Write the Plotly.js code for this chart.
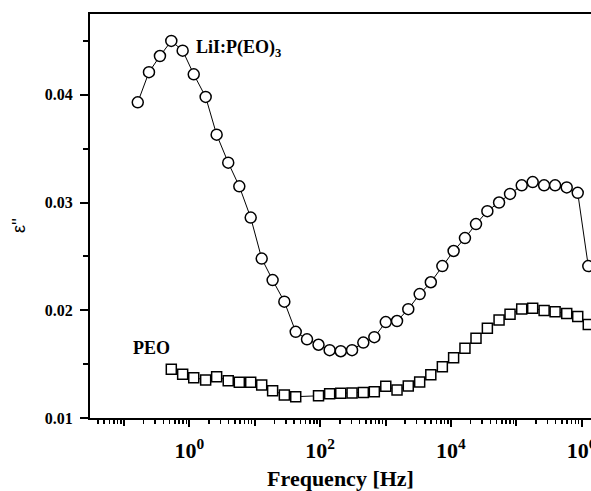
<!DOCTYPE html>
<html>
<head>
<meta charset="utf-8">
<script src="https://cdn.plot.ly/plotly-3.0.1.min.js"></script>
<style>html,body{margin:0;padding:0;background:#fff;}#chart{width:591px;height:491px;}</style>
</head>
<body>
<div id="chart"></div>
<script>
// Frequency (Hz)
const freq = [0.163,0.242,0.356,0.531,0.792,1.17,1.78,2.62,3.94,5.82,8.69,12.8,18.8,28.4,42.4,63.1,94.6,140,207,308,458,675,1010,1500,2230,3330,4930,7400,11000,16400,24200,36100,54500,80200,121000,178000,266000,392000,590000,869000,1260000];
// epsilon'' for LiI:P(EO)3
const lii = [0.0393,0.0421,0.0436,0.0450,0.0441,0.0419,0.0398,0.0363,0.0337,0.0315,0.0286,0.0248,0.0228,0.0208,0.0180,0.0173,0.0168,0.0163,0.0162,0.0163,0.0170,0.0175,0.0189,0.0190,0.0201,0.0215,0.0226,0.0241,0.0255,0.0267,0.0280,0.0292,0.0300,0.0308,0.0316,0.0319,0.0316,0.0316,0.0314,0.0309,0.0241];
// epsilon'' for PEO
const peo = [null,null,null,0.01452,0.01406,0.01374,0.01353,0.01384,0.01346,0.01332,0.01332,0.01306,0.01254,0.01214,0.01198,null,0.01206,0.01226,0.01229,0.01232,0.01237,0.01243,0.01294,0.01260,0.01297,0.01334,0.01402,0.01476,0.01560,0.01647,0.01740,0.01833,0.01910,0.01964,0.02011,0.02019,0.01997,0.01987,0.01969,0.01941,0.01868];

// labelled decades and unlabelled decades
const xTickVals = [1,100,10000,1000000];
const xTickText = ['<b>10<sup>0</sup></b>', '<b>10<sup>2</sup></b>', '<b>10<sup>4</sup></b>', '<b>10<sup>6</sup></b>'];
const xOddDecades = [0.1,10,1000,100000];
const yTickVals = [0.01,0.02,0.03,0.04];
const yTickText = ['0.01','0.02','0.03','0.04'];
const yMinorVals = [0.015,0.025,0.035,0.045];

const xMinorVals = [];
for (let d = -2; d <= 6; d++) {
  for (let m = 2; m <= 9; m++) xMinorVals.push(m * Math.pow(10, d));
}

const serif = 'Liberation Serif, Times New Roman, serif';
const xRange = [-1.518, 6.142];

const traces = [
  {
    x: freq, y: lii, type: 'scatter', mode: 'lines+markers',
    line: {color: '#000', width: 1},
    marker: {symbol: 'circle', size: 11, color: '#fff', line: {color: '#000', width: 1.5}},
    showlegend: false
  },
  {
    x: freq, y: peo, type: 'scatter', mode: 'lines+markers', connectgaps: true,
    line: {color: '#000', width: 1},
    marker: {symbol: 'square', size: 10, color: '#fff', line: {color: '#000', width: 1.5}},
    showlegend: false
  },
  {
    // carrier for the overlay axis that draws the unlabelled decade ticks
    x: [freq[0]], y: [null], xaxis: 'x2', type: 'scatter', mode: 'markers',
    hoverinfo: 'skip', showlegend: false
  }
];

const layout = {
  width: 591, height: 491,
  margin: {l: 90, r: 0, t: 14, b: 73, pad: 0},
  paper_bgcolor: '#fff', plot_bgcolor: '#fff',
  font: {family: serif, color: '#000'},
  xaxis: {
    type: 'log', range: xRange,
    showgrid: false, zeroline: false,
    showline: true, linecolor: '#000', linewidth: 2, mirror: true,
    ticks: 'outside', ticklen: 7, tickwidth: 2, tickcolor: '#000',
    tickmode: 'array', tickvals: xTickVals, ticktext: xTickText,
    ticklabelstandoff: 5, ticklabeloverflow: 'allow',
    tickfont: {family: serif, size: 22, color: '#000'},
    minor: {tickmode: 'array', tickvals: xMinorVals, ticks: 'outside', ticklen: 4, tickwidth: 1.5, tickcolor: '#000', showgrid: false},
    title: {text: '<b>Frequency [Hz]</b>', font: {family: serif, size: 22, color: '#000'}, standoff: 13}
  },
  xaxis2: {
    type: 'log', range: xRange, overlaying: 'x', side: 'bottom', anchor: 'y',
    showgrid: false, zeroline: false, showline: false, showticklabels: false,
    ticks: 'outside', ticklen: 7, tickwidth: 2, tickcolor: '#000',
    tickmode: 'array', tickvals: xOddDecades
  },
  yaxis: {
    range: [0.01, 0.0475],
    showgrid: false, zeroline: false,
    showline: true, linecolor: '#000', linewidth: 2, mirror: false,
    ticks: 'outside', ticklen: 8, tickwidth: 2, tickcolor: '#000',
    tickmode: 'array', tickvals: yTickVals, ticktext: yTickText,
    ticklabelstandoff: 4,
    tickfont: {family: serif, size: 16, color: '#000', weight: 'bold'},
    minor: {tickmode: 'array', tickvals: yMinorVals, ticks: 'outside', ticklen: 5, tickwidth: 2, tickcolor: '#000', showgrid: false}
  },
  annotations: [
    {xref: 'paper', yref: 'paper', x: (19 - 90) / 501, y: (418 - 226) / 404,
     text: "ε''", textangle: -90, showarrow: false,
     font: {family: 'Liberation Sans, Arial, sans-serif', size: 18, color: '#000'},
     xanchor: 'center', yanchor: 'middle'},
    {xref: 'paper', yref: 'paper', x: (194 - 90) / 501, y: (418 - 49) / 404,
     text: '<b>LiI:P(EO)<sub>3</sub></b>', showarrow: false,
     font: {family: serif, size: 18, color: '#000'},
     xanchor: 'left', yanchor: 'middle'},
    {xref: 'paper', yref: 'paper', x: (131 - 90) / 501, y: (418 - 347.5) / 404,
     text: '<b>PEO</b>', showarrow: false,
     font: {family: serif, size: 18, color: '#000'},
     xanchor: 'left', yanchor: 'middle'}
  ]
};

Plotly.newPlot('chart', traces, layout, {displayModeBar: false, staticPlot: true});
</script>
</body>
</html>
